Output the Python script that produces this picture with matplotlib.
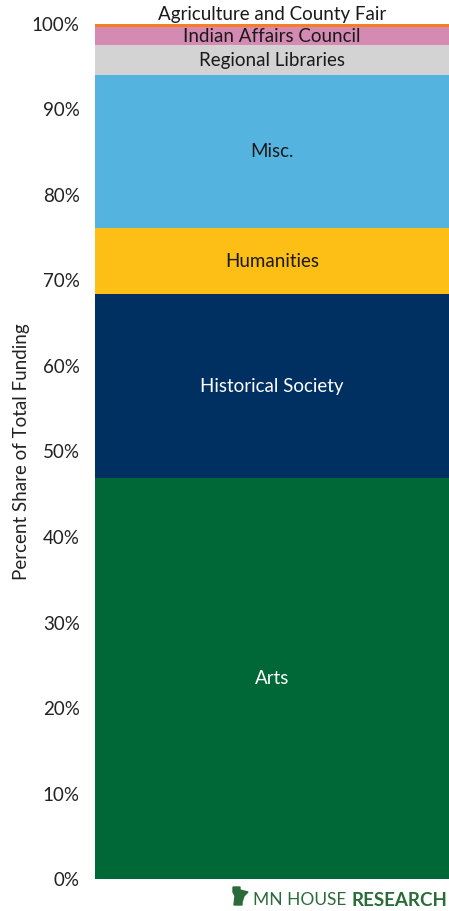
import numpy as np
import matplotlib.pyplot as plt
from matplotlib.patches import Polygon

plt.rcParams['font.family'] = ['Lato', 'DejaVu Sans']

# program shares of total funding, bottom to top (percent)
programs = ['Arts', 'Historical Society', 'Humanities', 'Misc.',
            'Regional Libraries', 'Indian Affairs Council', 'Agriculture and County Fair']
shares = [46.9, 21.5, 7.7, 17.9, 3.5, 2.1, 0.4]
colors = ['#006837', '#002F62', '#FDBE16', '#55B3E0', '#D3D3D3', '#D58AB3', '#F58024']
text_colors = ['white', 'white', '#1a1a1a', '#1a1a1a', '#1a1a1a', '#1a1a1a', '#1a1a1a']

fig = plt.figure(figsize=(4.49, 9.11), dpi=100)
ax = fig.add_axes([0.2116, 0.0351, 0.7884, 0.9386])

bottom = 0
for name, val, col, tc in zip(programs, shares, colors, text_colors):
    ax.bar(0, val, bottom=bottom, width=1.0, color=col, linewidth=0)
    y = bottom + val / 2
    if val < 1:
        y = bottom + val + 1.1  # label sits just above the thin top slice
    ax.text(0, y, name, ha='center', va='center', color=tc, fontsize=13.5)
    bottom += val

ax.set_xlim(-0.5, 0.5)
ax.set_ylim(0, 100)
ax.set_yticks(np.arange(0, 101, 10))
ax.set_yticklabels(['{}%'.format(t) for t in range(0, 101, 10)], fontsize=13.5, color='#222222')
ax.set_xticks([])
ax.tick_params(axis='y', length=0, pad=11)
for s in ax.spines.values():
    s.set_visible(False)
ax.set_ylabel('Percent Share of Total Funding', fontsize=13.5, color='#222222', labelpad=1)

# footer logo
green = '#2B6B3A'
fig.text(0.996, 0.012, 'RESEARCH', ha='right', va='center', fontsize=13.5,
         fontweight='bold', color=green)
fig.text(0.771, 0.012, 'MN HOUSE', ha='right', va='center', fontsize=12.5,
         color=green)
# rough state outline for the logo mark (figure pixels)
mn = [(233, 24), (240, 24), (240, 21), (248, 19), (244, 15), (242, 9),
      (242, 6), (234, 6), (235, 15), (233, 19)]
fig.patches.append(Polygon(mn, closed=True, transform=None, color=green))

fig.savefig('out.png', dpi=100)
